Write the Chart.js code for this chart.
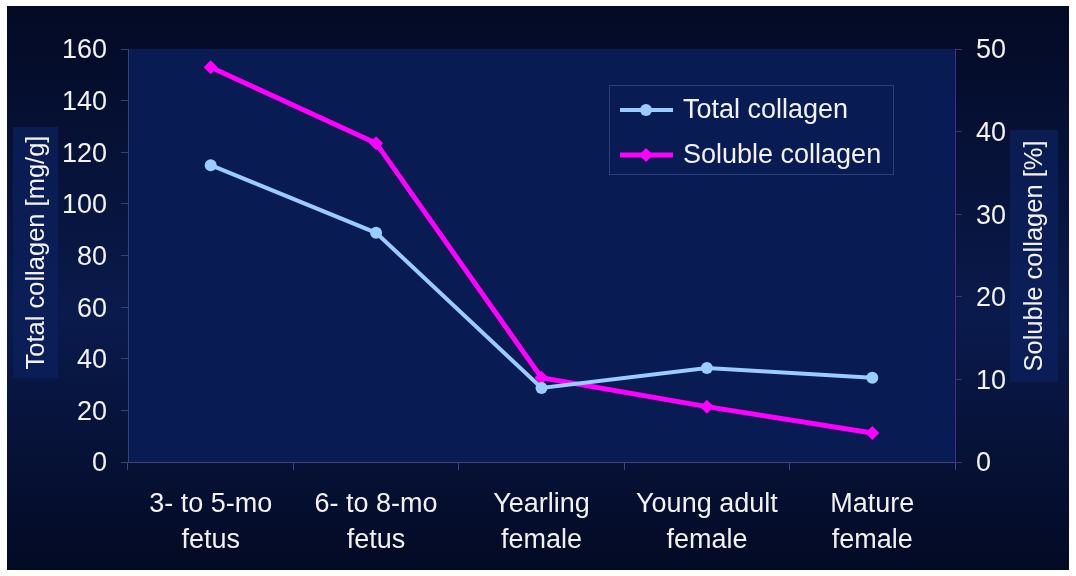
<!DOCTYPE html>
<html>
<head>
<meta charset="utf-8">
<script src="https://cdn.jsdelivr.net/npm/chart.js@4"></script>
<style>
    html, body { margin: 0; padding: 0; background: #ffffff; }
    #wrap { position: relative; width: 1076px; height: 576px; }
</style>
</head>
<body>
<div id="wrap"><canvas id="chart" width="1076" height="576"></canvas></div>
<script>
const categories = [
    ["3- to 5-mo", "fetus"],
    ["6- to 8-mo", "fetus"],
    ["Yearling", "female"],
    ["Young adult", "female"],
    ["Mature", "female"],
];
const totalCollagen = [115, 88.8, 28.7, 36.4, 32.6];
const solubleCollagen = [47.8, 38.6, 10.2, 6.7, 3.5];
const leftTicks = [0, 20, 40, 60, 80, 100, 120, 140, 160];
const rightTicks = [0, 10, 20, 30, 40, 50];

const FONT = "'Liberation Sans', Arial, sans-serif";
const TEXT = "#f2f2f2";

// slide background, plot fill, axis title boxes and the legend box
const backdrop = {
    id: "backdrop",
    beforeDraw: function (chart) {
        var ctx = chart.ctx;
        var a = chart.chartArea;
        ctx.save();
        ctx.fillStyle = "#ffffff";
        ctx.fillRect(0, 0, chart.width, chart.height);
        var g = ctx.createLinearGradient(0, 6, 0, 570);
        g.addColorStop(0, "#030a24");
        g.addColorStop(0.55, "#0a1a4c");
        g.addColorStop(1, "#030a24");
        ctx.fillStyle = g;
        ctx.fillRect(7, 6, 1062, 564);
        ctx.fillStyle = "#081b53";
        ctx.fillRect(a.left, a.top, a.right - a.left, a.bottom - a.top);
        ctx.restore();
    },
    afterDraw: function (chart) {
        var ctx = chart.ctx;
        ctx.save();
        // axis titles
        var titles = [
            { text: "Total collagen [mg/g]", x: 13, y: 127, w: 45, h: 251 },
            { text: "Soluble collagen [%]", x: 1010, y: 130, w: 48, h: 252 },
        ];
        titles.forEach(function (t) {
            ctx.fillStyle = "rgba(12, 32, 92, 0.75)";
            ctx.fillRect(t.x, t.y, t.w, t.h);
            ctx.save();
            ctx.translate(t.x + t.w / 2 + 1, t.y + t.h / 2);
            ctx.rotate(-Math.PI / 2);
            ctx.fillStyle = TEXT;
            ctx.font = "25.5px " + FONT;
            ctx.textAlign = "center";
            ctx.textBaseline = "middle";
            ctx.fillText(t.text, 0, 0);
            ctx.restore();
        });

        // legend
        ctx.fillStyle = "#081b53";
        ctx.fillRect(609.5, 85.5, 284, 89);
        ctx.strokeStyle = "#2c3f7c";
        ctx.lineWidth = 1;
        ctx.strokeRect(609.5, 85.5, 284, 89);
        chart.data.datasets.forEach(function (ds, i) {
            var y = 110 + i * 45;
            ctx.strokeStyle = ds.borderColor;
            ctx.lineWidth = ds.borderWidth;
            ctx.beginPath();
            ctx.moveTo(620, y);
            ctx.lineTo(673, y);
            ctx.stroke();
            ctx.fillStyle = ds.borderColor;
            ctx.beginPath();
            if (ds.pointStyle === "rectRot") {
                var r = ds.pointRadius;
                ctx.moveTo(646, y - r);
                ctx.lineTo(646 + r, y);
                ctx.lineTo(646, y + r);
                ctx.lineTo(646 - r, y);
                ctx.closePath();
            } else {
                ctx.arc(646, y, ds.pointRadius, 0, Math.PI * 2);
            }
            ctx.fill();
            ctx.fillStyle = TEXT;
            ctx.font = "27px " + FONT;
            ctx.textAlign = "left";
            ctx.textBaseline = "middle";
            ctx.fillText(ds.label, 683, y + 1);
        });
        ctx.restore();
    },
};

var ctx = document.getElementById("chart").getContext("2d");
var myChart = new Chart(ctx, {
    type: "line",
    data: {
        labels: categories,
        datasets: [
            {
                label: "Total collagen",
                data: totalCollagen,
                yAxisID: "y",
                borderColor: "#99ccff",
                backgroundColor: "#99ccff",
                borderWidth: 4,
                pointStyle: "circle",
                pointRadius: 6,
                pointBorderWidth: 0,
                tension: 0,
            },
            {
                label: "Soluble collagen",
                data: solubleCollagen,
                yAxisID: "y1",
                borderColor: "#ff00ff",
                backgroundColor: "#ff00ff",
                borderWidth: 5,
                pointStyle: "rectRot",
                pointRadius: 7,
                pointBorderWidth: 0,
                tension: 0,
            },
        ],
    },
    options: {
        responsive: false,
        animation: false,
        layout: { padding: { top: 49, left: 0, right: 0, bottom: 0 } },
        plugins: {
            legend: { display: false },
            tooltip: { enabled: false },
        },
        scales: {
            x: {
                offset: true,
                grid: {
                    offset: true,
                    drawOnChartArea: false,
                    tickLength: 8,
                    color: "#3a4878",
                },
                border: { color: "#3a4878" },
                ticks: {
                    color: TEXT,
                    font: { family: FONT, size: 27, lineHeight: 1.34 },
                    padding: 16,
                    maxRotation: 0,
                },
                afterFit: function (scale) { scale.height = 114; },
            },
            y: {
                position: "left",
                min: 0,
                max: 160,
                afterBuildTicks: function (scale) {
                    scale.ticks = leftTicks.map(function (v) { return { value: v }; });
                },
                grid: {
                    drawOnChartArea: false,
                    tickLength: 7,
                    color: "#34427a",
                },
                border: { color: "#34427a" },
                ticks: {
                    color: TEXT,
                    font: { family: FONT, size: 27 },
                    padding: 14,
                    labelOffset: 2,
                },
                afterFit: function (scale) { scale.width = 128; },
            },
            y1: {
                position: "right",
                min: 0,
                max: 50,
                afterBuildTicks: function (scale) {
                    scale.ticks = rightTicks.map(function (v) { return { value: v }; });
                },
                grid: {
                    drawOnChartArea: false,
                    tickLength: 7,
                    color: "#4a2a86",
                },
                border: { color: "#4a2a86" },
                ticks: {
                    color: TEXT,
                    font: { family: FONT, size: 27 },
                    padding: 14,
                    labelOffset: 2,
                },
                afterFit: function (scale) { scale.width = 121; },
            },
        },
    },
    plugins: [backdrop],
});
</script>
</body>
</html>
